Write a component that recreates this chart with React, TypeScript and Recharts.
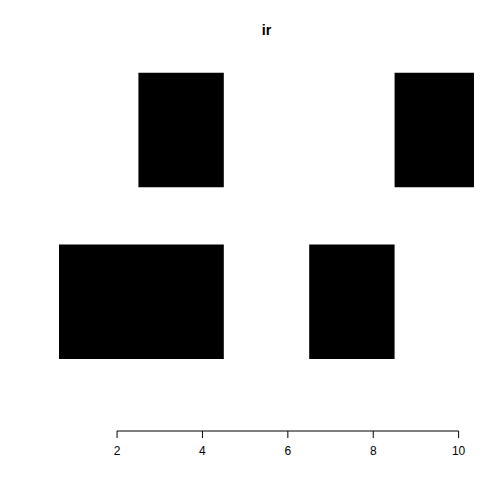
import React from "react";
import { ComposedChart, XAxis, YAxis, ReferenceArea, ReferenceLine } from "recharts";

const title = "ir";
const rows = [2, 2, 1, 1];
const starts = [2.5, 8.5, 0.5, 6.5];
const ends = [4.5, 10.5, 4.5, 8.5];
const xTicks = [2, 4, 6, 8, 10];
const xDomain: [number, number] = [0.64, 10.36];
const yDomain: [number, number] = [0.371, 3.62];

const rowBottom = (r: number) => 1 + (r - 1) * 1.5;
const rowTop = (r: number) => rowBottom(r) + 1;

export default function App() {
  const font = '"Liberation Sans", Arial, sans-serif';
  return (
    <div style={{ position: "absolute", left: 0, top: 0, width: 504, height: 504, background: "#fff" }}>
      <div
        style={{
          position: "absolute",
          left: 59,
          width: 415,
          top: 21,
          textAlign: "center",
          fontFamily: font,
          fontWeight: "bold",
          fontSize: 14.4,
          lineHeight: "18px",
        }}
      >
        {title}
      </div>
      <ComposedChart
        width={504}
        height={504}
        data={starts.map((s, i) => ({ x: s, y: rowBottom(rows[i]) }))}
        margin={{ top: 59, right: 30, bottom: 0, left: 59 }}
      >
        <XAxis
          type="number"
          dataKey="x"
          domain={xDomain}
          allowDataOverflow
          ticks={xTicks}
          axisLine={false}
          tickSize={7}
          tickMargin={8}
          tickLine={{ stroke: "#000", strokeWidth: 1 }}
          tick={{ fill: "#000", fontSize: 12, fontFamily: font }}
          interval={0}
          height={73}
        />
        <YAxis type="number" dataKey="y" domain={yDomain} allowDataOverflow hide />
        {starts.map((s, i) => (
          <ReferenceArea
            key={i}
            x1={s}
            x2={ends[i]}
            y1={rowBottom(rows[i])}
            y2={rowTop(rows[i])}
            fill="#000"
            fillOpacity={1}
            stroke="none"
            ifOverflow="hidden"
          />
        ))}
        <ReferenceLine
          segment={[
            { x: xTicks[0], y: yDomain[0] },
            { x: xTicks[xTicks.length - 1], y: yDomain[0] },
          ]}
          stroke="#000"
          strokeWidth={1}
          ifOverflow="visible"
        />
      </ComposedChart>
    </div>
  );
}
